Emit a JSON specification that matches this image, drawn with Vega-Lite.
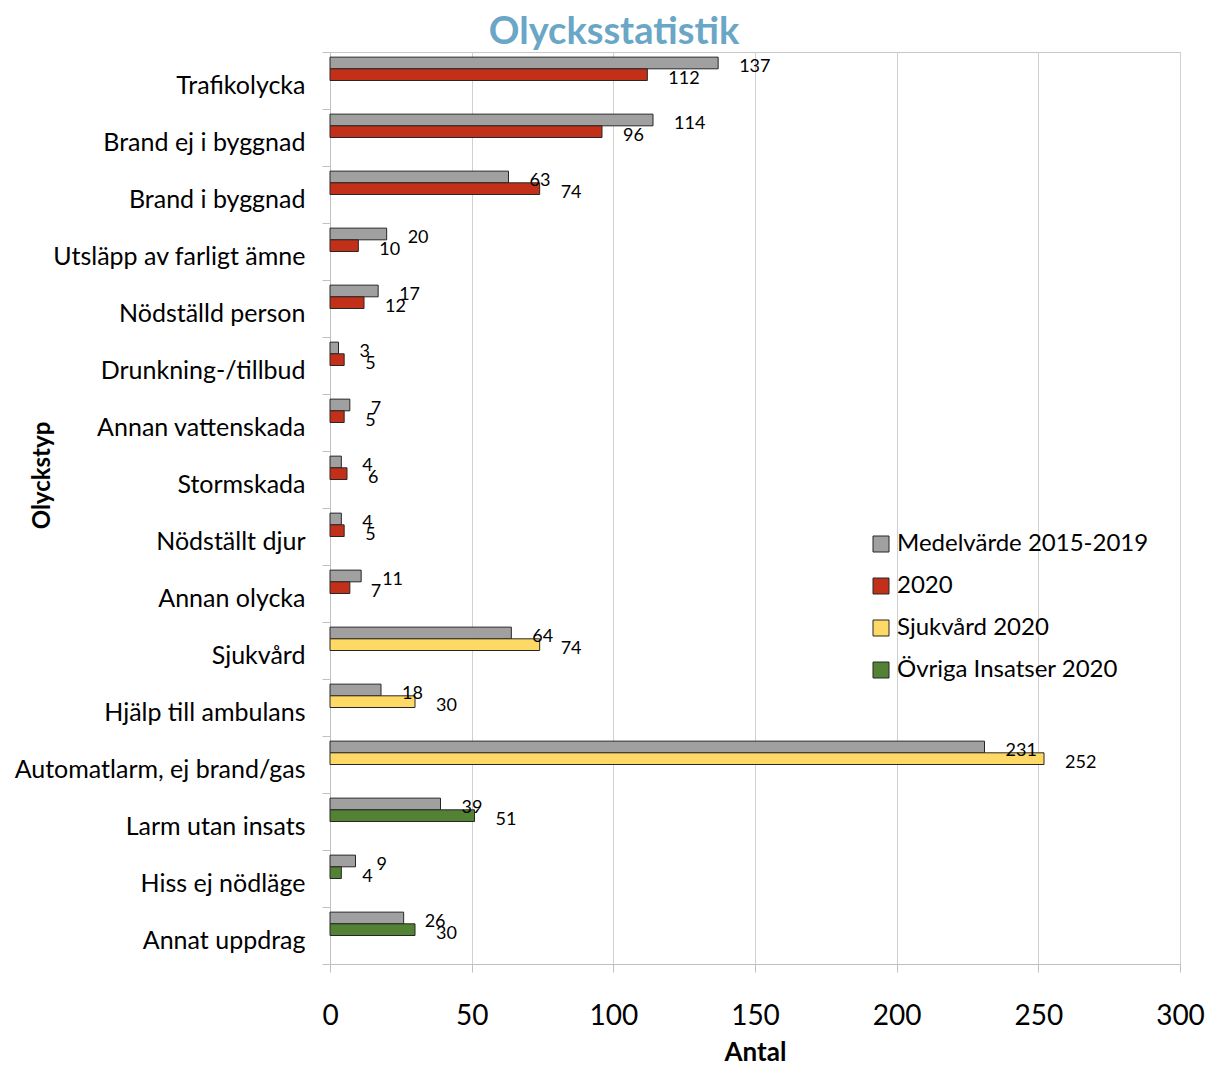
{
 "$schema": "https://vega.github.io/schema/vega-lite/v6.json",
 "width": 850, "height": 912,
 "autosize": {"type": "none"},
 "padding": {"left": 330, "top": 52, "right": 31, "bottom": 102},
 "background": "white",
 "title": {"text": "Olycksstatistik", "fontSize": 38, "font": "Lato", "fontWeight": "bold", "color": "#6aa6c6", "anchor": "middle", "dx": -141, "dy": 20, "offset": 8},
 "config": {"view": {"stroke": "#c8c8c8"}, "font": "Lato"},
 "data": {"values": [
  {"cat": "Trafikolycka", "series": "Medelvärde 2015-2019", "slot": 0, "value": 137},
  {"cat": "Trafikolycka", "series": "2020", "slot": 1, "value": 112},
  {"cat": "Brand ej i byggnad", "series": "Medelvärde 2015-2019", "slot": 0, "value": 114},
  {"cat": "Brand ej i byggnad", "series": "2020", "slot": 1, "value": 96},
  {"cat": "Brand i byggnad", "series": "Medelvärde 2015-2019", "slot": 0, "value": 63},
  {"cat": "Brand i byggnad", "series": "2020", "slot": 1, "value": 74},
  {"cat": "Utsläpp av farligt ämne", "series": "Medelvärde 2015-2019", "slot": 0, "value": 20},
  {"cat": "Utsläpp av farligt ämne", "series": "2020", "slot": 1, "value": 10},
  {"cat": "Nödställd person", "series": "Medelvärde 2015-2019", "slot": 0, "value": 17},
  {"cat": "Nödställd person", "series": "2020", "slot": 1, "value": 12},
  {"cat": "Drunkning-/tillbud", "series": "Medelvärde 2015-2019", "slot": 0, "value": 3},
  {"cat": "Drunkning-/tillbud", "series": "2020", "slot": 1, "value": 5},
  {"cat": "Annan vattenskada", "series": "Medelvärde 2015-2019", "slot": 0, "value": 7},
  {"cat": "Annan vattenskada", "series": "2020", "slot": 1, "value": 5},
  {"cat": "Stormskada", "series": "Medelvärde 2015-2019", "slot": 0, "value": 4},
  {"cat": "Stormskada", "series": "2020", "slot": 1, "value": 6},
  {"cat": "Nödställt djur", "series": "Medelvärde 2015-2019", "slot": 0, "value": 4},
  {"cat": "Nödställt djur", "series": "2020", "slot": 1, "value": 5},
  {"cat": "Annan olycka", "series": "Medelvärde 2015-2019", "slot": 0, "value": 11},
  {"cat": "Annan olycka", "series": "2020", "slot": 1, "value": 7},
  {"cat": "Sjukvård", "series": "Medelvärde 2015-2019", "slot": 0, "value": 64},
  {"cat": "Sjukvård", "series": "Sjukvård 2020", "slot": 1, "value": 74},
  {"cat": "Hjälp till ambulans", "series": "Medelvärde 2015-2019", "slot": 0, "value": 18},
  {"cat": "Hjälp till ambulans", "series": "Sjukvård 2020", "slot": 1, "value": 30},
  {"cat": "Automatlarm, ej brand/gas", "series": "Medelvärde 2015-2019", "slot": 0, "value": 231},
  {"cat": "Automatlarm, ej brand/gas", "series": "Sjukvård 2020", "slot": 1, "value": 252},
  {"cat": "Larm utan insats", "series": "Medelvärde 2015-2019", "slot": 0, "value": 39},
  {"cat": "Larm utan insats", "series": "Övriga Insatser 2020", "slot": 1, "value": 51},
  {"cat": "Hiss ej nödläge", "series": "Medelvärde 2015-2019", "slot": 0, "value": 9},
  {"cat": "Hiss ej nödläge", "series": "Övriga Insatser 2020", "slot": 1, "value": 4},
  {"cat": "Annat uppdrag", "series": "Medelvärde 2015-2019", "slot": 0, "value": 26},
  {"cat": "Annat uppdrag", "series": "Övriga Insatser 2020", "slot": 1, "value": 30}
 ]},
 "encoding": {
  "y": {"field": "cat", "type": "nominal", "sort": null,
        "scale": {"paddingInner": 0, "paddingOuter": 0},
        "axis": {"title": "Olyckstyp", "titleFontSize": 24, "titleFontWeight": "bold", "titleColor": "black",
                 "titleX": -288, "titleY": 423, "titleAngle": -90, "titleBaseline": "middle", "titleAlign": "center",
                 "labelFontSize": 25, "labelColor": "black", "labelPadding": 17, "labelOffset": 5, "labelLimit": 0,
                 "domainColor": "#c0c0c0", "tickColor": "#c0c0c0", "tickBand": "extent", "tickSize": 8}},
  "yOffset": {"field": "slot", "type": "ordinal", "scale": {"domain": [0, 1, 2, 3], "paddingInner": 0, "paddingOuter": 0.44}},
  "x": {"field": "value", "type": "quantitative", "scale": {"domain": [0, 300], "nice": false},
        "axis": {"title": "Antal", "titleFontSize": 26, "titleFontWeight": "bold", "titleColor": "black", "titlePadding": 9,
                 "values": [0, 50, 100, 150, 200, 250, 300], "labelFontSize": 28, "labelColor": "black", "labelPadding": 30, "labelFlush": false,
                 "domainColor": "#c0c0c0", "tickColor": "#c0c0c0", "tickSize": 8, "gridColor": "#d0d0d0", "grid": true}}
 },
 "layer": [
  {"mark": {"type": "bar", "stroke": "#262626", "strokeWidth": 1},
   "encoding": {"color": {"field": "series", "type": "nominal",
     "scale": {"domain": ["Medelvärde 2015-2019", "2020", "Sjukvård 2020", "Övriga Insatser 2020"],
               "range": ["#a0a0a0", "#c3301a", "#ffd966", "#548235"]},
     "legend": {"title": null, "orient": "none", "legendX": 539, "legendY": 480, "symbolType": "square", "symbolSize": 256,
                "symbolStrokeColor": "#262626", "symbolStrokeWidth": 1, "labelFontSize": 24, "labelColor": "black",
                "labelOffset": 4, "rowPadding": 18, "labelLimit": 0}}}},
  {"mark": {"type": "text", "align": "left", "dx": 21, "dy": 4, "fontSize": 18, "color": "black"},
   "encoding": {"text": {"field": "value", "type": "quantitative"}}}
 ]
}
